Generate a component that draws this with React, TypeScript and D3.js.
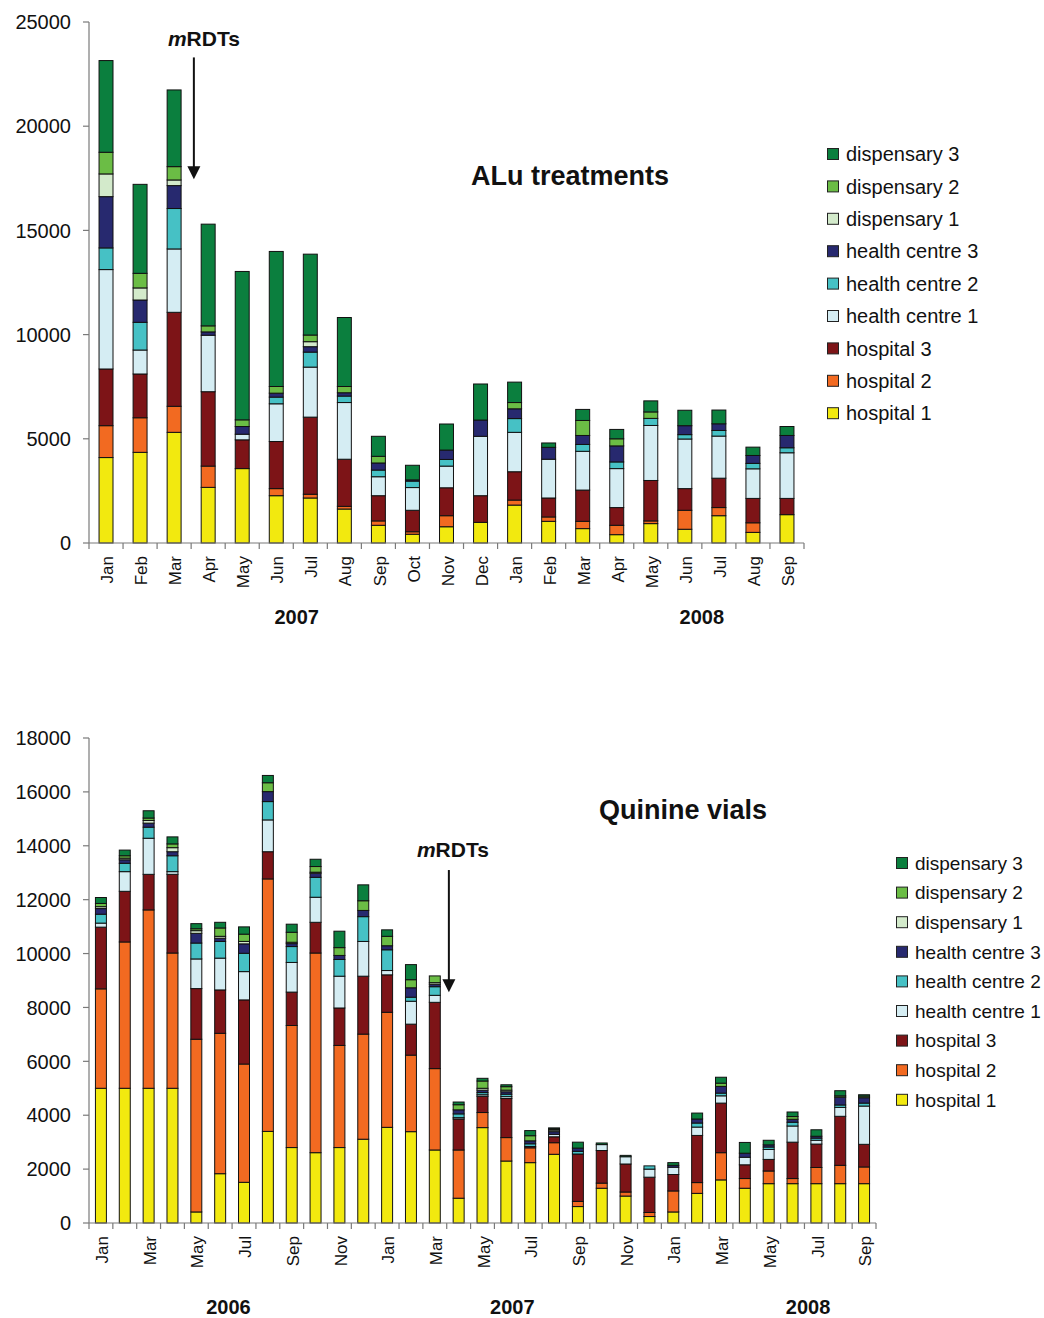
import * as d3 from "d3";

const FONT = "'Liberation Sans', Arial, Helvetica, sans-serif";

// stack order, bottom to top
const seriesNames = [
  "hospital 1",
  "hospital 2",
  "hospital 3",
  "health centre 1",
  "health centre 2",
  "health centre 3",
  "dispensary 1",
  "dispensary 2",
  "dispensary 3",
];
const seriesColors = [
  "#f2e90f",
  "#f26a21",
  "#7d1417",
  "#d5edf3",
  "#46c1c5",
  "#27296f",
  "#d3eacb",
  "#6bbd45",
  "#0b7f3e",
];

// ALu treatments, Jan 2007 - Sep 2008
const aluMonths = [
  "Jan", "Feb", "Mar", "Apr", "May", "Jun", "Jul", "Aug", "Sep", "Oct", "Nov", "Dec",
  "Jan", "Feb", "Mar", "Apr", "May", "Jun", "Jul", "Aug", "Sep",
];
const aluHosp1 = [4100, 4350, 5310, 2670, 3570, 2270, 2160, 1630, 850, 420, 780, 990, 1820, 1040, 690, 400, 930, 660, 1310, 510, 1360];
const aluHosp2 = [1530, 1660, 1250, 1020, 0, 340, 180, 130, 210, 120, 530, 0, 240, 210, 350, 450, 130, 910, 390, 460, 0];
const aluHosp3 = [2720, 2100, 4510, 3570, 1380, 2260, 3700, 2260, 1210, 1030, 1340, 1280, 1360, 910, 1500, 850, 1940, 1040, 1410, 1170, 780];
const aluHc1 = [4770, 1150, 3040, 2710, 270, 1810, 2400, 2720, 910, 1090, 1040, 2850, 1890, 1860, 1860, 1870, 2640, 2380, 2020, 1420, 2190];
const aluHc2 = [1040, 1330, 1940, 0, 0, 320, 720, 310, 320, 310, 320, 0, 660, 0, 330, 320, 340, 210, 270, 260, 240];
const aluHc3 = [2460, 1070, 1100, 160, 370, 190, 260, 160, 340, 60, 450, 780, 470, 570, 430, 770, 0, 430, 320, 380, 590];
const aluDisp1 = [1090, 580, 270, 0, 0, 0, 240, 0, 0, 0, 0, 0, 0, 0, 0, 0, 0, 0, 0, 0, 0];
const aluDisp2 = [1040, 700, 640, 290, 320, 320, 320, 300, 320, 0, 0, 0, 300, 0, 720, 340, 310, 0, 0, 0, 0];
const aluDisp3 = [4400, 4270, 3680, 4880, 7120, 6480, 3880, 3310, 960, 700, 1250, 1730, 980, 210, 530, 450, 530, 740, 660, 400, 430];
const aluYTicks = [0, 5000, 10000, 15000, 20000, 25000];
const aluYears = ["2007", "2008"];
const aluYearAt = [5.6, 17.5];

// Quinine vials, Jan 2006 - Sep 2008
const quiMonths = [
  "Jan", "Feb", "Mar", "Apr", "May", "Jun", "Jul", "Aug", "Sep", "Oct", "Nov", "Dec",
  "Jan", "Feb", "Mar", "Apr", "May", "Jun", "Jul", "Aug", "Sep", "Oct", "Nov", "Dec",
  "Jan", "Feb", "Mar", "Apr", "May", "Jun", "Jul", "Aug", "Sep",
];
const quiHosp1 = [5000, 5000, 5000, 5000, 410, 1830, 1510, 3400, 2800, 2610, 2800, 3110, 3550, 3390, 2710, 920, 3540, 2300, 2240, 2550, 610, 1290, 1000, 240, 410, 1100, 1600, 1290, 1460, 1460, 1460, 1460, 1460];
const quiHosp2 = [3690, 5430, 6620, 5020, 6410, 5210, 4390, 9370, 4530, 7410, 3790, 3900, 4270, 2840, 3020, 1790, 560, 870, 550, 430, 190, 190, 150, 150, 780, 400, 1010, 360, 470, 190, 600, 680, 620];
const quiHosp3 = [2290, 1880, 1320, 2920, 1880, 1610, 2380, 1010, 1240, 1140, 1390, 2150, 1390, 1150, 2460, 1150, 600, 1450, 50, 220, 1760, 1210, 1040, 1310, 610, 1750, 1840, 510, 430, 1350, 870, 1820, 840];
const quiHc1 = [150, 730, 1340, 100, 1100, 1180, 1050, 1180, 1100, 930, 1180, 1290, 160, 850, 260, 50, 60, 70, 0, 90, 0, 220, 270, 300, 270, 310, 270, 280, 370, 600, 140, 330, 1420];
const quiHc2 = [330, 310, 410, 590, 590, 620, 680, 680, 590, 740, 620, 920, 770, 150, 320, 140, 80, 90, 100, 0, 100, 0, 0, 120, 0, 150, 100, 0, 90, 140, 80, 90, 110];
const quiHc3 = [210, 130, 150, 150, 360, 120, 350, 370, 110, 150, 150, 230, 150, 350, 90, 150, 90, 90, 110, 100, 120, 0, 0, 0, 70, 150, 250, 150, 80, 110, 70, 290, 200];
const quiDisp1 = [70, 60, 100, 150, 100, 70, 90, 0, 50, 40, 0, 0, 0, 0, 60, 0, 70, 60, 0, 60, 0, 0, 0, 0, 0, 0, 0, 0, 0, 0, 0, 0, 0];
const quiDisp2 = [120, 90, 90, 140, 70, 310, 270, 330, 370, 210, 290, 360, 350, 300, 250, 190, 270, 130, 190, 40, 0, 0, 0, 0, 0, 0, 120, 0, 0, 100, 0, 50, 60];
const quiDisp3 = [220, 210, 270, 260, 190, 210, 270, 270, 300, 270, 610, 590, 240, 560, 0, 100, 100, 70, 190, 40, 220, 60, 50, 0, 100, 220, 220, 400, 170, 170, 240, 190, 50];
const quiYTicks = [0, 2000, 4000, 6000, 8000, 10000, 12000, 14000, 16000, 18000];
const quiYears = ["2006", "2007", "2008"];
const quiYearAt = [5.35, 17.25, 29.65];

type PanelProps = {
  months: string[];
  series: number[][];
  yTicks: number[];
  left: number;
  right: number;
  top: number;
  bottom: number;
  padding: number;
  labelEvery: number;
  years: string[];
  yearAt: number[];
  yearDy: number;
  title: string;
  titleX: number;
  titleY: number;
  arrowAt: number;
  arrowFrom: number;
  arrowTo: number;
  noteY: number;
  noteDx: number;
  legendX: number;
  legendY: number;
  legendStep: number;
  legendFont: number;
};

function StackedPanel(p: PanelProps) {
  const x = d3
    .scaleBand<number>()
    .domain(p.months.map((_, i) => i))
    .range([p.left, p.right])
    .paddingInner(p.padding)
    .paddingOuter(p.padding / 2);
  const y = d3
    .scaleLinear()
    .domain([0, p.yTicks[p.yTicks.length - 1]])
    .range([p.bottom, p.top]);

  const rows = p.months.map((_, i) => {
    const r: Record<string, number> = {};
    seriesNames.forEach((n, k) => (r[n] = p.series[k][i]));
    return r;
  });
  const stacked = d3.stack<Record<string, number>>().keys(seriesNames)(rows);

  const step = x.step();
  const pos = (at: number) => (x(0) as number) + x.bandwidth() / 2 + step * at;
  const axisColor = "#7a7a7a";

  return (
    <g fontFamily={FONT}>
      {/* bars */}
      {stacked.map((layer, k) => (
        <g key={layer.key} fill={seriesColors[k]}>
          {layer.map((d, i) =>
            d[1] - d[0] > 0 ? (
              <rect
                key={i}
                x={x(i)}
                y={y(d[1])}
                width={x.bandwidth()}
                height={y(d[0]) - y(d[1])}
                stroke="#111"
                strokeWidth={1}
              />
            ) : null
          )}
        </g>
      ))}

      {/* y axis */}
      <line x1={p.left} x2={p.left} y1={p.top} y2={p.bottom} stroke={axisColor} strokeWidth={1.2} />
      {p.yTicks.map((t) => (
        <g key={t}>
          <line x1={p.left - 6} x2={p.left} y1={y(t)} y2={y(t)} stroke={axisColor} strokeWidth={1.2} />
          <text x={p.left - 18} y={y(t)} dy="0.36em" textAnchor="end" fontSize={20} fill="#111">
            {t}
          </text>
        </g>
      ))}

      {/* x axis */}
      <line x1={p.left} x2={p.right} y1={p.bottom} y2={p.bottom} stroke={axisColor} strokeWidth={1.2} />
      {d3.range(p.months.length + 1).map((i) => (
        <line
          key={i}
          x1={p.left + step * i}
          x2={p.left + step * i}
          y1={p.bottom}
          y2={p.bottom + 6}
          stroke={axisColor}
          strokeWidth={1.2}
        />
      ))}
      {p.months.map((m, i) =>
        i % p.labelEvery === 0 ? (
          <text
            key={i}
            transform={`translate(${pos(i) + 1},${p.bottom + 13}) rotate(-90)`}
            textAnchor="end"
            dy="0.36em"
            fontSize={17}
            fill="#111"
          >
            {m}
          </text>
        ) : null
      )}
      {p.years.map((yr, i) => (
        <text key={yr} x={pos(p.yearAt[i])} y={p.bottom + p.yearDy} textAnchor="middle" fontSize={20} fontWeight="bold" fill="#111">
          {yr}
        </text>
      ))}

      {/* title */}
      <text x={p.titleX} y={p.titleY} textAnchor="middle" fontSize={27} fontWeight="bold" fill="#111">
        {p.title}
      </text>

      {/* mRDTs note + arrow */}
      <text x={pos(p.arrowAt) + p.noteDx} y={y(p.noteY)} textAnchor="middle" fontSize={21} fontWeight="bold" fill="#111">
        <tspan fontStyle="italic">m</tspan>RDTs
      </text>
      <line
        x1={pos(p.arrowAt)}
        x2={pos(p.arrowAt)}
        y1={y(p.arrowFrom)}
        y2={y(p.arrowTo) - 12}
        stroke="#111"
        strokeWidth={2}
      />
      <path
        d={`M${pos(p.arrowAt) - 6.5},${y(p.arrowTo) - 13} L${pos(p.arrowAt) + 6.5},${y(p.arrowTo) - 13} L${pos(p.arrowAt)},${y(p.arrowTo)} Z`}
        fill="#111"
      />

      {/* legend */}
      {seriesNames
        .map((n, k) => ({ n, k }))
        .reverse()
        .map(({ n, k }, j) => (
          <g key={n} transform={`translate(${p.legendX},${p.legendY + j * p.legendStep})`}>
            <rect x={0.5} y={-5.5} width={11} height={11} fill={seriesColors[k]} stroke="#222" strokeWidth={1} />
            <text x={19} y={0} dy="0.36em" fontSize={p.legendFont} fill="#111">
              {n}
            </text>
          </g>
        ))}
    </g>
  );
}

export default function App() {
  return (
    <div style={{ position: "absolute", left: 0, top: 0, background: "#fff" }}>
      <svg width={1044} height={1318} style={{ display: "block" }}>
        <rect width={1044} height={1318} fill="#fff" />
        <StackedPanel
          months={aluMonths}
          series={[aluHosp1, aluHosp2, aluHosp3, aluHc1, aluHc2, aluHc3, aluDisp1, aluDisp2, aluDisp3]}
          yTicks={aluYTicks}
          left={89}
          right={804}
          top={22}
          bottom={543}
          padding={0.59}
          labelEvery={1}
          years={aluYears}
          yearAt={aluYearAt}
          yearDy={81}
          title="ALu treatments"
          titleX={570}
          titleY={185}
          arrowAt={2.58}
          arrowFrom={23300}
          arrowTo={17450}
          noteY={23870}
          noteDx={10}
          legendX={827}
          legendY={154}
          legendStep={32.4}
          legendFont={20}
        />
        <StackedPanel
          months={quiMonths}
          series={[quiHosp1, quiHosp2, quiHosp3, quiHc1, quiHc2, quiHc3, quiDisp1, quiDisp2, quiDisp3]}
          yTicks={quiYTicks}
          left={89}
          right={876}
          top={738}
          bottom={1223}
          padding={0.54}
          labelEvery={2}
          years={quiYears}
          yearAt={quiYearAt}
          yearDy={91}
          title="Quinine vials"
          titleX={683}
          titleY={819}
          arrowAt={14.59}
          arrowFrom={13100}
          arrowTo={8560}
          noteY={13600}
          noteDx={4}
          legendX={896}
          legendY={863}
          legendStep={29.6}
          legendFont={19}
        />
      </svg>
    </div>
  );
}
